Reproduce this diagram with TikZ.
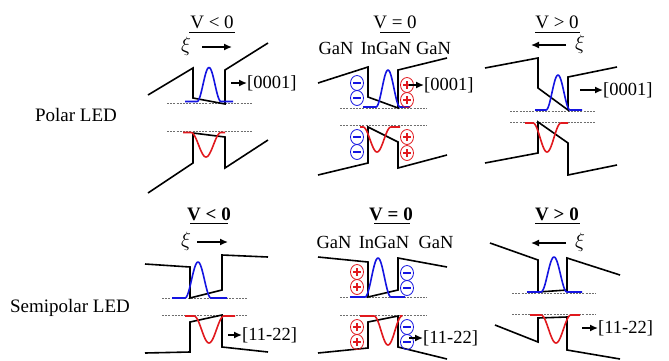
\documentclass[tikz,border=0pt]{standalone}
\usepackage{fontspec}
\setmainfont{Liberation Serif}
\usetikzlibrary{arrows.meta}
\definecolor{wblue}{RGB}{20,20,225}
\definecolor{wred}{RGB}{225,25,30}
\definecolor{dgray}{RGB}{110,110,110}
% style, x-left, x-right, baseline, centre, amplitude, half-width
\newcommand\myWave[7]{\draw[#1] (#2,#4) -- ({#5-#7},#4) -- plot[domain=-#7:#7,samples=41,smooth] ({#5+\x},{#4-#6*pow(cos(90*\x/#7),2)}) -- (#3,#4);}
\newcommand\myPlus[2]{\draw[wred,line width=0.8pt] (#1,#2) ellipse (6.5pt and 7.5pt);
  \draw[wred,line width=1.1pt] ([xshift=-3.8pt]#1,#2)--([xshift=3.8pt]#1,#2) ([yshift=-3.8pt]#1,#2)--([yshift=3.8pt]#1,#2);}
\newcommand\myMinus[2]{\draw[wblue,line width=0.8pt] (#1,#2) ellipse (6.5pt and 7.5pt);
  \draw[wblue,line width=1.1pt] ([xshift=-3.8pt]#1,#2)--([xshift=3.8pt]#1,#2);}
\begin{document}
\begin{tikzpicture}[x=1pt,y=-1pt,
  band/.style={line width=1.6pt,black,line join=miter},
  bluew/.style={line width=1.6pt,wblue,line join=round},
  redw/.style={line width=1.6pt,wred,line join=round},
  fermi/.style={dgray,line width=0.7pt,dash pattern=on 2pt off 1.2pt},
  lbl/.style={font=\fontsize{18.5}{21}\selectfont,inner sep=0pt},
  vlbl/.style={font=\fontsize{19}{21}\selectfont,inner sep=0pt},
  dir/.style={line width=1.4pt,-{Latex[length=8pt,width=7pt]}},
  uline/.style={line width=0.8pt}]
\useasboundingbox (0,0) rectangle (669,360);
\fill[white] (0,0) rectangle (669,360);

% row labels
\node[vlbl] (rpolar) at (76,115) {Polar LED};
\node[vlbl] (rsemi) at (70,308) {Semipolar LED};

%================ Panel 1: polar V<0
\node[vlbl] (t1) at (212,22) {V < 0};
\draw[uline] (189,32)--(235,32);
\node[vlbl,font=\fontsize{21}{23}\selectfont] (xi1) at (186,46) {$\xi$};
\coordinate (a1s) at (202,47); \coordinate (a1e) at (232,47);
\draw[dir] (a1s)--(a1e);
\draw[fermi] (167,103)--(252,103);
\draw[fermi] (167,131.5)--(252,131.5);
\draw[band] (148,95)--(193,68)--(193,98)--(225,104)--(225,70)--(268,43);
\draw[band] (148,193)--(193,163)--(193,133)--(225,137)--(225,168)--(268,140);
\myWave{bluew}{185}{233}{101.5}{209}{34}{12}
\myWave{redw}{183}{225}{132.5}{206}{-24.5}{15}
\node[lbl,anchor=west] (d1) at (247,83) {[0001]};
\coordinate (p1) at (231,83);
\draw[dir] (p1)--(d1.west);

%================ Panel 2: polar V=0
\node[vlbl] (t2) at (395,22) {V = 0};
\draw[uline] (380,32)--(410,32);
\node[lbl] (g21) at (336,48) {GaN};
\node[lbl] (g22) at (386,48) {InGaN};
\node[lbl] (g23) at (433.5,48) {GaN};
\draw[fermi] (340,108)--(427,108);
\draw[fermi] (340,125)--(427,125);
\draw[band] (318,83)--(368,67)--(368,97)--(398,108)--(398,70)--(447,58);
\draw[band] (318,175)--(368,163)--(368,127)--(398,142)--(398,168)--(447,155);
\myWave{bluew}{363}{410}{107}{388}{37}{12}
\myWave{redw}{360}{400}{127}{377}{-25}{14}
\myMinus{357}{83}\myMinus{357}{98}\myMinus{357}{137}\myMinus{357}{152}
\myPlus{407}{85}\myPlus{407}{100}\myPlus{407}{137}\myPlus{407}{153}
\node[lbl,anchor=west] (d2) at (424,85) {[0001]};
\coordinate (p2) at (409,85);
\draw[dir] (p2)--(d2.west);

%================ Panel 3: polar V>0
\node[vlbl] (t3) at (557,22) {V > 0};
\draw[uline] (535,32)--(580,32);
\node[vlbl,font=\fontsize{21}{23}\selectfont] (xi3) at (580,44) {$\xi$};
\coordinate (a3s) at (566,45); \coordinate (a3e) at (531,45);
\draw[dir] (a3s)--(a3e);
\draw[fermi] (510,111)--(596,111);
\draw[fermi] (510,122)--(596,122);
\draw[band] (485,68)--(538,58)--(538,88)--(568,110)--(568,77)--(617,67);
\draw[band] (485,163)--(538,153)--(538,122)--(568,143)--(568,175)--(617,165);
\myWave{bluew}{535}{582}{110}{558}{35}{12}
\myWave{redw}{525}{568}{123}{547}{-29}{14}
\node[lbl,anchor=west] (d3) at (603,90) {[0001]};
\coordinate (p3) at (580,90);
\draw[dir] (p3)--(d3.west);

%================ Panel 4: semipolar V<0
\node[vlbl,font=\fontsize{19}{21}\selectfont\bfseries] (t4) at (209,214) {V < 0};
\draw[uline] (190,223)--(228,223);
\node[vlbl,font=\fontsize{21}{23}\selectfont] (xi4) at (186,241) {$\xi$};
\coordinate (a4s) at (197,242); \coordinate (a4e) at (228,242);
\draw[dir] (a4s)--(a4e);
\draw[fermi] (162,298.5)--(248,298.5);
\draw[fermi] (162,315)--(248,315);
\draw[band] (145,264)--(190,267)--(190,298)--(222,290)--(222,255)--(268,257);
\draw[band] (145,353)--(190,352)--(190,322)--(222,315)--(222,347)--(268,352);
\myWave{bluew}{172}{227}{298}{198}{36}{13}
\myWave{redw}{185}{235}{316}{209}{-27}{15}
\node[lbl,anchor=west] (d4) at (242,335) {[11-22]};
\coordinate (p4) at (228,335);
\draw[dir] (p4)--(d4.west);

%================ Panel 5: semipolar V=0
\node[vlbl,font=\fontsize{19}{21}\selectfont\bfseries] (t5) at (391,214) {V = 0};
\draw[uline] (374,223)--(410,223);
\node[lbl] (g51) at (334,242) {GaN};
\node[lbl] (g52) at (384,242) {InGaN};
\node[lbl] (g53) at (436,242) {GaN};
\draw[fermi] (340,297.5)--(427,297.5);
\draw[fermi] (340,315)--(427,315);
\draw[band] (318,257)--(368,262)--(368,297)--(398,290)--(398,258)--(447,267);
\draw[band] (318,353)--(368,348)--(368,322)--(398,316)--(398,347)--(447,359);
\myWave{bluew}{350}{405}{297}{378}{39}{13}
\myWave{redw}{360}{400}{316}{388}{-29}{14}
\myPlus{357}{272}\myPlus{357}{287}\myPlus{357}{327}\myPlus{357}{342}
\myMinus{407}{273}\myMinus{407}{288}\myMinus{407}{327}\myMinus{407}{342}
\node[lbl,anchor=west] (d5) at (423,338) {[11-22]};
\coordinate (p5) at (409,338);
\draw[dir] (p5)--(d5.west);

%================ Panel 6: semipolar V>0
\node[vlbl,font=\fontsize{19}{21}\selectfont\bfseries] (t6) at (557,214) {V > 0};
\draw[uline] (535,223)--(580,223);
\node[vlbl,font=\fontsize{21}{23}\selectfont] (xi6) at (580,242) {$\xi$};
\coordinate (a6s) at (566,243); \coordinate (a6e) at (531,243);
\draw[dir] (a6s)--(a6e);
\draw[fermi] (512,293)--(596,293);
\draw[fermi] (512,314)--(596,314);
\draw[band] (490,243)--(538,260)--(538,292)--(567,290)--(567,258)--(620,275);
\draw[band] (495,325)--(538,342)--(538,318)--(567,317)--(567,350)--(620,359);
\myWave{bluew}{527}{582}{292}{554}{35}{13}
\myWave{redw}{530}{580}{315}{556}{-28}{15}
\node[lbl,anchor=west] (d6) at (598,328) {[11-22]};
\coordinate (p6) at (582,328);
\draw[dir] (p6)--(d6.west);
\end{tikzpicture}
\end{document}
